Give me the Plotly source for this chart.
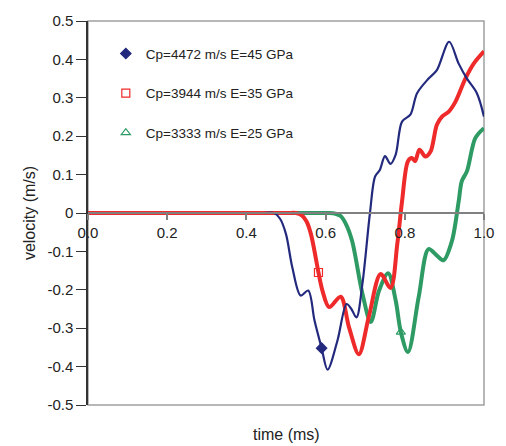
import plotly.graph_objects as go

# Particle velocity histories for three rock stiffnesses
t_45 = [0.0, 0.1, 0.2, 0.3, 0.4, 0.44, 0.47, 0.485, 0.50, 0.516, 0.537, 0.556, 0.572,
        0.59, 0.605, 0.63, 0.653, 0.665, 0.678, 0.693, 0.712, 0.725, 0.737, 0.750, 0.764,
        0.777, 0.793, 0.814, 0.831, 0.860, 0.881, 0.912, 0.936, 0.957, 0.982, 1.0]
v_45 = [0.0, 0.0, 0.0, 0.0, 0.0, 0.0, 0.0, -0.015, -0.055, -0.142, -0.215, -0.202, -0.28,
        -0.352, -0.408, -0.332, -0.237, -0.25, -0.272, -0.184, 0.0, 0.095, 0.112, 0.148,
        0.128, 0.152, 0.238, 0.256, 0.312, 0.35, 0.372, 0.446, 0.389, 0.35, 0.312, 0.251]

t_35 = [0.0, 0.1, 0.2, 0.3, 0.4, 0.47, 0.505, 0.525, 0.54, 0.552, 0.563, 0.575, 0.582,
        0.592, 0.609, 0.638, 0.659, 0.684, 0.709, 0.739, 0.764, 0.781, 0.793, 0.808, 0.818,
        0.826, 0.837, 0.852, 0.865, 0.881, 0.894, 0.911, 0.928, 0.953, 0.974, 1.0]
v_35 = [0.0, 0.0, 0.0, 0.0, 0.0, 0.0, 0.0, 0.0, -0.006, -0.022, -0.055, -0.116, -0.155,
        -0.202, -0.245, -0.218, -0.297, -0.368, -0.271, -0.159, -0.195, -0.081, 0.03, 0.135,
        0.143, 0.135, 0.165, 0.147, 0.16, 0.23, 0.251, 0.264, 0.29, 0.35, 0.389, 0.421]

t_25 = [0.0, 0.1, 0.2, 0.3, 0.4, 0.5, 0.58, 0.61, 0.625, 0.638, 0.652, 0.667, 0.693,
        0.714, 0.735, 0.758, 0.777, 0.79, 0.808, 0.835, 0.860, 0.881, 0.898, 0.919, 0.936,
        0.944, 0.957, 0.978, 1.0]
v_25 = [0.0, 0.0, 0.0, 0.0, 0.0, 0.0, 0.0, 0.0, -0.002, -0.008, -0.03, -0.073, -0.21,
        -0.284, -0.202, -0.157, -0.228, -0.31, -0.362, -0.219, -0.094, -0.111, -0.123,
        -0.073, 0.03, 0.083, 0.109, 0.195, 0.221]

# Labelled sample point on each history
mark_t = [0.59, 0.582, 0.79]
mark_v = [-0.352, -0.155, -0.31]

names = ["Cp=4472 m/s E=45 GPa", "Cp=3944 m/s E=35 GPa", "Cp=3333 m/s E=25 GPa"]
colors = ["#232A7E", "#EE2A2A", "#2E9B64"]
widths = [2.2, 4, 4]
symbols = ["diamond", "square-open", "triangle-up-open"]
sizes = [8, 8, 8]

x_ticks = [0.0, 0.2, 0.4, 0.6, 0.8, 1.0]
x_tick_text = ["0.0", "0.2", "0.4", "0.6", "0.8", "1.0"]
y_ticks = [0.5, 0.4, 0.3, 0.2, 0.1, 0.0, -0.1, -0.2, -0.3, -0.4, -0.5]
y_tick_text = ["0.5", "0.4", "0.3", "0.2", "0.1", "0", "-0.1", "-0.2", "-0.3", "-0.4", "-0.5"]

series = [(t_45, v_45), (t_35, v_35), (t_25, v_25)]

fig = go.Figure()

# curves, drawn back to front so the blue history stays on top
for i in [2, 1, 0]:
    tx, vy = series[i]
    fig.add_trace(go.Scatter(
        x=tx, y=vy, mode="lines", showlegend=False, hoverinfo="skip",
        line=dict(color=colors[i], width=widths[i], shape="spline", smoothing=0.9),
    ))

for i in range(3):
    fig.add_trace(go.Scatter(
        x=[mark_t[i]], y=[mark_v[i]], mode="markers", name=names[i],
        legendgroup=str(i),
        marker=dict(symbol=symbols[i], size=sizes[i], color=colors[i],
                    line=dict(color=colors[i], width=1.2)),
    ))

font = dict(family="Liberation Sans, Arial, sans-serif", color="#222222")

fig.update_layout(
    width=506, height=446,
    margin=dict(l=88, r=20, t=18, b=41),
    paper_bgcolor="white", plot_bgcolor="white",
    font=dict(size=15, **font),
    showlegend=True,
    legend=dict(
        x=0.045, y=0.955, xanchor="left", yanchor="top",
        bgcolor="rgba(0,0,0,0)", font=dict(size=13.5, **font),
        tracegroupgap=19, itemwidth=30,
    ),
    xaxis=dict(
        range=[0, 1], tickvals=x_ticks, ticktext=x_tick_text,
        anchor="free", position=0.5,
        showline=True, linecolor="#808080", linewidth=1.5,
        ticks="outside", ticklen=6, tickcolor="#808080", tickwidth=1.5,
        showgrid=False, zeroline=False,
        tickfont=dict(size=15, **font),
    ),
    yaxis=dict(
        range=[-0.5, 0.5], tickvals=y_ticks, ticktext=y_tick_text,
        showline=True, linecolor="#333333", linewidth=1.5,
        ticks="outside", ticklen=10, tickcolor="#333333", tickwidth=1.2,
        showgrid=False, zeroline=False,
        title=dict(text="velocity (m/s)", font=dict(size=16, **font), standoff=8),
        tickfont=dict(size=15, **font),
    ),
    shapes=[
        dict(type="rect", xref="paper", yref="paper", x0=0, y0=0, x1=1, y1=1,
             line=dict(color="#A0A0A0", width=1.5), layer="below"),
    ],
    annotations=[
        dict(text="time (ms)", xref="paper", yref="paper", x=0.5, y=0,
             yshift=-19, yanchor="top", showarrow=False,
             font=dict(size=16, **font)),
    ],
)

fig.write_html("out.html")
